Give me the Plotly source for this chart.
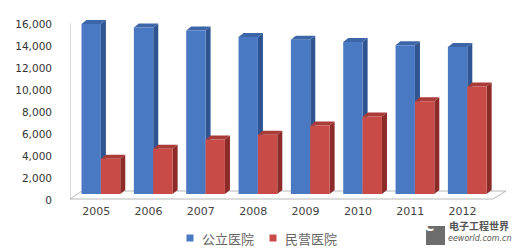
import plotly.graph_objects as go

years = ["2005", "2006", "2007", "2008", "2009", "2010", "2011", "2012"]
public = [15483, 15170, 14900, 14309, 14051, 13850, 13542, 13384]
private = [3220, 4122, 4974, 5403, 6240, 7068, 8440, 9786]
series_names = ["公立医院", "民营医院"]
y_ticks = [0, 2000, 4000, 6000, 8000, 10000, 12000, 14000, 16000]

idx = list(range(len(years)))

# geometry of the fake 3D look (axis units)
BW = 0.37            # front face width
OFF_B = -0.28        # blue offset
OFF_R = OFF_B + BW   # red offset
DX = 0.096           # depth in x (category units)
DY = 364             # depth in y (value units)
YMIN, YMAX = -546, 16303
XMIN, XMAX = -0.5, 7.83
FLOOR_FRONT = -455
PW, PH, ML, MT = 436, 185, 70, 15   # plot size / margins in px

blue_front, blue_side, blue_top = "#4a79c3", "#2e5592", "#3d66a8"
red_front, red_side, red_top = "#c84b48", "#8d2b29", "#a93b39"

def px(xp):
    return (xp - ML) / PW

def py(yp):
    return (MT + PH - yp) / PH

fig = go.Figure()
fig.add_trace(go.Bar(x=idx, y=public, name=series_names[0], width=BW, offset=OFF_B,
                     marker=dict(color=blue_front, line=dict(width=0))))
fig.add_trace(go.Bar(x=idx, y=private, name=series_names[1], width=BW, offset=OFF_R,
                     marker=dict(color=red_front, line=dict(width=0))))

shapes = []
# floor
fx0, fx1 = XMIN, XMIN + 8.08
shapes.append(dict(type="path", xref="x", yref="y", layer="below",
                   path=f"M{fx0},{FLOOR_FRONT} L{fx1},{FLOOR_FRONT} L{fx1+0.25},{FLOOR_FRONT+2*DY} L{fx0+0.23},{FLOOR_FRONT+2*DY} Z",
                   line=dict(color="#b8b8b8", width=1), fillcolor="white"))
# left wall edge
shapes.append(dict(type="line", xref="x", yref="y", layer="below",
                   x0=XMIN, x1=XMIN, y0=FLOOR_FRONT, y1=y_ticks[-1] - 450,
                   line=dict(color="#b8b8b8", width=1)))

def faces(vals, off, side_c, top_c):
    out = []
    for i, v in zip(idx, vals):
        xl = i + off
        xr = xl + BW
        out.append(dict(type="path", xref="x", yref="y", layer="below",
                        path=f"M{xr},0 L{xr},{v} L{xr+DX},{v+DY} L{xr+DX},{DY} Z",
                        line=dict(width=0), fillcolor=side_c))
        out.append(dict(type="path", xref="x", yref="y", layer="below",
                        path=f"M{xl},{v} L{xr},{v} L{xr+DX},{v+DY} L{xl+DX},{v+DY} Z",
                        line=dict(width=0), fillcolor=top_c))
    return out

shapes += faces(public, OFF_B, blue_side, blue_top)
shapes += faces(private, OFF_R, red_side, red_top)

# legend (manual, compact like the original)
legend_items = [(190, blue_front, series_names[0]), (273, red_front, series_names[1])]
annotations = []
for cx, col, name in legend_items:
    shapes.append(dict(type="rect", xref="paper", yref="paper", layer="above",
                       x0=px(cx - 3.5), x1=px(cx + 3.5), y0=py(241.5), y1=py(234.5),
                       line=dict(width=0), fillcolor=col))
    annotations.append(dict(text=name, xref="paper", yref="paper", x=px(cx + 10), y=py(238),
                            xanchor="left", yanchor="middle", showarrow=False,
                            font=dict(family="Noto Sans CJK SC", size=13, color="#666666")))

# watermark logo box
shapes.append(dict(type="rect", xref="paper", yref="paper", layer="above",
                   x0=px(426), x1=px(445), y0=py(245), y1=py(226),
                   line=dict(width=0), fillcolor="#6d6d6d"))

annotations += [
    dict(text="<b>C</b>", xref="paper", yref="paper", x=px(435.5), y=py(235.5),
         showarrow=False, font=dict(family="DejaVu Sans", size=14, color="white")),
    dict(text="<b>电子工程世界</b>", xref="paper", yref="paper", x=px(448), y=py(234),
         xanchor="left", showarrow=False, borderpad=0,
         font=dict(family="Noto Sans CJK SC", size=10, color="#555555")),
    dict(text="<i>eeworld.com.cn</i>", xref="paper", yref="paper", x=px(447), y=py(244),
         xanchor="left", showarrow=False, borderpad=0,
         font=dict(family="DejaVu Sans", size=8, color="#555555")),
]

fig.update_layout(
    width=519, height=249,
    margin=dict(l=ML, r=519 - ML - PW, t=MT, b=249 - MT - PH, autoexpand=False),
    paper_bgcolor="white", plot_bgcolor="white",
    barmode="overlay",
    showlegend=False,
    shapes=shapes,
    annotations=annotations,
    xaxis=dict(range=[XMIN, XMAX], tickvals=idx, ticktext=years, showgrid=False,
               zeroline=False, showline=False, ticks="",
               tickfont=dict(family="DejaVu Sans", size=11, color="#444444"),
               ticklabelstandoff=3),
    yaxis=dict(range=[YMIN, YMAX], tickvals=y_ticks, tickformat=",d", showgrid=False,
               zeroline=False, showline=False, ticks="",
               tickfont=dict(family="DejaVu Sans", size=10.5, color="#333333"),
               ticklabelshift=6, ticklabelstandoff=17),
)

fig.write_html("out.html")
